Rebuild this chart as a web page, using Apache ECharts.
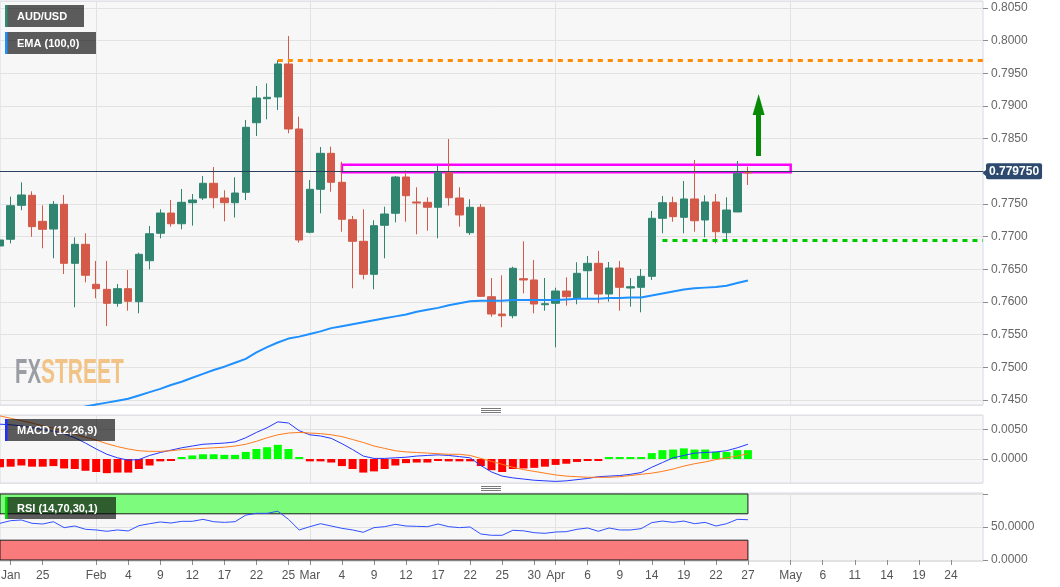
<!DOCTYPE html>
<html><head><meta charset="utf-8">
<script src="https://cdn.jsdelivr.net/npm/echarts@6/dist/echarts.min.js"></script>
<style>html,body{margin:0;padding:0;background:#fff}#c{width:1060px;height:587px}</style>
</head><body><div id="c"></div>
<script>
// ---- categories (trading days) ----
const dates = ['2021-01-19','2021-01-20','2021-01-21','2021-01-22','2021-01-25','2021-01-26','2021-01-27','2021-01-28','2021-01-29',
'2021-02-01','2021-02-02','2021-02-03','2021-02-04','2021-02-05','2021-02-08','2021-02-09','2021-02-10','2021-02-11','2021-02-12',
'2021-02-15','2021-02-16','2021-02-17','2021-02-18','2021-02-19','2021-02-22','2021-02-23','2021-02-24','2021-02-25','2021-02-26',
'2021-03-01','2021-03-02','2021-03-03','2021-03-04','2021-03-05','2021-03-08','2021-03-09','2021-03-10','2021-03-11','2021-03-12',
'2021-03-15','2021-03-16','2021-03-17','2021-03-18','2021-03-19','2021-03-22','2021-03-23','2021-03-24','2021-03-25','2021-03-26',
'2021-03-29','2021-03-30','2021-03-31','2021-04-01','2021-04-02','2021-04-05','2021-04-06','2021-04-07','2021-04-08','2021-04-09',
'2021-04-12','2021-04-13','2021-04-14','2021-04-15','2021-04-16','2021-04-19','2021-04-20','2021-04-21','2021-04-22','2021-04-23',
'2021-04-26','2021-04-27','2021-04-28','2021-04-29','2021-04-30','2021-05-03','2021-05-04','2021-05-05','2021-05-06','2021-05-07',
'2021-05-10','2021-05-11','2021-05-12','2021-05-13','2021-05-14','2021-05-17','2021-05-18','2021-05-19','2021-05-20','2021-05-21',
'2021-05-24','2021-05-25','2021-05-26','2021-05-27'];

// ---- x tick labels ----
const xTickDates = ['2021-01-20','2021-01-25','2021-02-01','2021-02-04','2021-02-09','2021-02-12','2021-02-17','2021-02-22','2021-02-25',
'2021-03-01','2021-03-04','2021-03-09','2021-03-12','2021-03-17','2021-03-22','2021-03-25','2021-03-30','2021-04-01','2021-04-06',
'2021-04-09','2021-04-14','2021-04-19','2021-04-22','2021-04-27','2021-05-03','2021-05-06','2021-05-11','2021-05-14','2021-05-19','2021-05-24'];
const xTickTexts = ['Jan','25','Feb','4','9','12','17','22','25','Mar','4','9','12','17','22','25','30','Apr','6','9','14','19','22','27','May','6','11','14','19','24'];
const monthStarts = ['2021-02-01','2021-03-01','2021-04-01','2021-05-03'];

// ---- AUD/USD daily candles [open, close, low, high] ----
const ohlc = [
[0.76857,0.76949,0.76719,0.77255],[0.76960,0.77474,0.76898,0.77612],[0.77480,0.77638,0.77404,0.77832],[0.77633,0.77153,0.76999,0.77694],
[0.77235,0.77113,0.76822,0.77480],[0.77117,0.77495,0.76669,0.77546],[0.77495,0.76592,0.76429,0.77638],[0.76592,0.76883,0.75919,0.76990],
[0.76883,0.76409,0.76302,0.77052],[0.76271,0.76204,0.76057,0.76628],[0.76194,0.75980,0.75633,0.76628],[0.75980,0.76204,0.75928,0.76276],
[0.76204,0.76011,0.75867,0.76490],[0.76005,0.76730,0.75827,0.76755],[0.76632,0.77045,0.76501,0.77163],[0.77052,0.77362,0.76975,0.77419],
[0.77362,0.77198,0.77153,0.77561],[0.77198,0.77526,0.77113,0.77730],[0.77520,0.77561,0.77168,0.77653],[0.77592,0.77817,0.77561,0.77929],
[0.77817,0.77596,0.77434,0.78066],[0.77592,0.77520,0.77235,0.77710],[0.77520,0.77668,0.77293,0.77909],[0.77679,0.78674,0.77561,0.78786],
[0.78744,0.79122,0.78541,0.79306],[0.79112,0.79133,0.78796,0.79347],[0.79138,0.79643,0.78939,0.79700],[0.79643,0.78648,0.78582,0.80071],
[0.78648,0.76949,0.76908,0.78836],[0.77067,0.77725,0.77052,0.77867],[0.77725,0.78276,0.77358,0.78372],[0.78276,0.77832,0.77688,0.78377],
[0.77832,0.77266,0.77076,0.78147],[0.77260,0.76929,0.76210,0.77316],[0.76929,0.76424,0.76347,0.77419],[0.76424,0.77168,0.76194,0.77251],
[0.77174,0.77347,0.76669,0.77459],[0.77358,0.77913,0.77220,0.77929],[0.77913,0.77627,0.77229,0.78010],[0.77531,0.77515,0.77036,0.77756],
[0.77526,0.77450,0.77091,0.77603],[0.77450,0.77979,0.76975,0.78086],[0.77979,0.77596,0.77474,0.78495],[0.77592,0.77332,0.77153,0.77756],
[0.77061,0.77450,0.77026,0.77572],[0.77450,0.76087,0.76077,0.77500],[0.76081,0.75816,0.75775,0.76367],[0.75816,0.75790,0.75613,0.76409],
[0.75790,0.76516,0.75751,0.76540],[0.76357,0.76337,0.76133,0.76929],[0.76337,0.75969,0.75827,0.76643],[0.75959,0.75974,0.75867,0.76367],
[0.75980,0.76168,0.75307,0.76219],[0.76168,0.76081,0.75943,0.76378],[0.76061,0.76439,0.75965,0.76608],[0.76479,0.76592,0.76057,0.76704],
[0.76592,0.76122,0.75980,0.76781],[0.76122,0.76520,0.76005,0.76612],[0.76520,0.76225,0.75867,0.76628],[0.76214,0.76234,0.75928,0.76367],
[0.76225,0.76393,0.75842,0.76505],[0.76393,0.77281,0.76337,0.77393],[0.77281,0.77520,0.77052,0.77622],[0.77520,0.77306,0.77229,0.77612],
[0.77296,0.77577,0.77052,0.77852],[0.77577,0.77244,0.77076,0.78173],[0.77255,0.77531,0.76990,0.77633],[0.77531,0.77076,0.76898,0.77653],
[0.77061,0.77408,0.76949,0.77603],[0.77378,0.77970,0.77378,0.78158],[0.77990,0.77975,0.77791,0.78071]];

// ---- EMA(100) ----
const ema100 = [null,null,null,null,null,null,null,0.7436,0.7440,0.7443,0.7446,0.7449,0.7452,0.7457,0.7462,0.7467,0.7473,0.7478,0.7484,
0.7490,0.7496,0.7501,0.7507,0.7513,0.7523,0.7531,0.7538,0.7544,0.7547,0.7551,0.7555,0.7560,0.7563,0.7566,0.7569,0.7572,0.7575,0.7578,
0.7581,0.7585,0.7588,0.7591,0.7595,0.7598,0.7601,0.7602,0.7602,0.7602,0.7603,0.7603,0.7603,0.7603,0.7603,0.7604,0.7605,0.7605,0.7605,
0.7606,0.7606,0.7607,0.7607,0.7610,0.7613,0.7616,0.7619,0.7621,0.7622,0.7623,0.7625,0.7629,0.7633];

// ---- MACD (12,26,9) ----
const macdLine = [0.0059,0.0058,0.0056,0.0053,0.0050,0.0047,0.0043,0.0036,0.0027,0.0017,0.0008,0.0002,-0.0002,-0.0001,0.0006,0.0011,
0.0015,0.0019,0.0022,0.0025,0.0026,0.0027,0.0029,0.0036,0.0045,0.0053,0.0063,0.0061,0.0048,0.0041,0.0039,0.0035,0.0026,0.0016,0.0005,
0.0001,0.0001,0.0002,0.0003,0.0005,0.0006,0.0007,0.0006,0.0004,0.0002,-0.0011,-0.0022,-0.0029,-0.0032,-0.0034,-0.0036,-0.0037,-0.0038,
-0.0037,-0.0035,-0.0033,-0.0030,-0.0029,-0.0028,-0.0026,-0.0023,-0.0014,-0.0006,0.0002,0.0006,0.0010,0.0011,0.0012,0.0014,0.0019,0.0025];
const signalLine = [0.0073,0.0069,0.0065,0.0061,0.0056,0.0052,0.0047,0.0042,0.0037,0.0032,0.0026,0.0021,0.0017,0.0014,0.0013,0.0013,
0.0014,0.0016,0.0017,0.0018,0.0019,0.0020,0.0022,0.0025,0.0030,0.0036,0.0041,0.0044,0.0045,0.0044,0.0043,0.0041,0.0038,0.0033,0.0028,
0.0022,0.0018,0.0014,0.0012,0.0011,0.0010,0.0009,0.0008,0.0008,0.0006,0.0001,-0.0004,-0.0009,-0.0014,-0.0018,-0.0021,-0.0024,-0.0027,
-0.0029,-0.0030,-0.0031,-0.0031,-0.0031,-0.0030,-0.0028,-0.0026,-0.0024,-0.0021,-0.0017,-0.0012,-0.0008,-0.0005,-0.0001,0.0002,0.0005,0.0009];
const macdHist = [-0.0014,-0.0013,-0.0011,-0.0013,-0.0013,-0.0012,-0.0016,-0.0017,-0.0020,-0.0022,-0.0024,-0.0023,-0.0023,-0.0017,-0.0011,
-0.0004,-0.0001,0.0003,0.0006,0.0008,0.0008,0.0007,0.0007,0.0012,0.0017,0.0020,0.0024,0.0017,0.0001,-0.0004,-0.0004,-0.0006,-0.0012,
-0.0017,-0.0023,-0.0021,-0.0017,-0.0011,-0.0007,-0.0006,-0.0006,-0.0003,-0.0004,-0.0004,-0.0004,-0.0012,-0.0019,-0.0022,-0.0017,-0.0016,
-0.0015,-0.0013,-0.0010,-0.0008,-0.0005,-0.0001,-0.0001,0.0001,0.0001,0.0001,0.0002,0.0010,0.0015,0.0016,0.0018,0.0016,0.0016,0.0012,
0.0012,0.0015,0.0015];

// ---- RSI (14) ----
const rsi = [55.6,59.6,60.6,55.6,54.5,58,49,51.5,46.5,45.5,43.5,45.5,44,52,55,57.6,56,58.6,58.6,61.6,58,57,58,68,70.7,70.7,74,61.6,45.5,
50.5,55,51.5,48,45.5,42,49,50.5,54,51.5,51,50.5,54.5,50.5,49,50,39.4,37.4,37.4,45,44.2,41.4,40.4,42.4,42.9,46.5,48.5,43.5,48.5,45.5,
45.5,47.5,56.6,59,57,59,55,57,51.5,55,61.6,61];
const rsiBands = [[70, 100], [0, 30]];

// ---- annotations ----
const lastPrice = [0.77975];
const resistance = ['2021-02-24', 0.7970];
const support = ['2021-04-15', 0.7694];
const zone = ['2021-03-04', '2021-05-03', 0.77987, 0.78100];
const arrowUp = ['2021-04-28', 0.78235, 0.79023];

const FONT = '"Liberation Sans", Arial, sans-serif';
const ix = d => dates.indexOf(d);
const lastIdx = ohlc.length - 1;

function xAx(grid, show) {
  return {
    type: 'category', gridIndex: grid, data: dates, boundaryGap: false,
    axisLine: {show: false},
    axisTick: {show: show, length: 5, interval: (i, v) => xTickDates.includes(v), lineStyle: {color: '#8c8c8c'}},
    axisLabel: {show: show, interval: (i, v) => xTickDates.includes(v),
      formatter: v => xTickTexts[xTickDates.indexOf(v)] || '', color: '#555', fontSize: 12, fontFamily: FONT, margin: 9},
    splitLine: {show: true, interval: (i, v) => monthStarts.includes(v), lineStyle: {color: '#e2e2e2', width: 1}}
  };
}
function yAx(grid, min, max, step, fmt) {
  return {
    type: 'value', gridIndex: grid, position: 'right', min: min, max: max, scale: true,
    minInterval: step, maxInterval: step, splitNumber: 12,
    axisLine: {show: false},
    axisTick: {show: true, length: 5, lineStyle: {color: '#8c8c8c'}},
    axisLabel: {color: '#666', fontSize: 12, fontFamily: FONT, margin: 8, padding: [4, 0, 0, 0],
      showMinLabel: false, showMaxLabel: false, formatter: fmt},
    splitLine: {show: true, lineStyle: {color: '#e2e2e2', width: 1}}
  };
}
function tag(x, y, w, text, strip) {
  return [
    {type: 'rect', z: 100, shape: {x: x, y: y, width: w, height: 22}, style: {fill: 'rgba(0,0,0,0.63)'}},
    {type: 'rect', z: 101, shape: {x: x, y: y, width: 2.5, height: 22}, style: {fill: strip}},
    {type: 'text', z: 101, x: x + 12, y: y + 11.5, style: {text: text, fill: '#fff', font: 'bold 11px ' + FONT, verticalAlign: 'middle'}}
  ];
}
function handle(y) {
  return [0, 2, 4].map(d => ({type: 'line', z: 50, shape: {x1: 481, y1: y + d + 0.5, x2: 501, y2: y + d + 0.5}, style: {stroke: '#7a7a7a', lineWidth: 1}}));
}

const gridBase = {left: 0, width: 983, show: true, backgroundColor: '#f7f7f7', borderColor: '#d4dae6', borderWidth: 1, containLabel: false, outerBoundsMode: 'none'};

const chart = echarts.init(document.getElementById('c'), null, {renderer: 'canvas'});
chart.setOption({
  animation: false,
  backgroundColor: '#ffffff',
  textStyle: {fontFamily: FONT},
  grid: [
    Object.assign({}, gridBase, {top: 1, height: 404}),
    Object.assign({}, gridBase, {top: 415, height: 68}),
    Object.assign({}, gridBase, {top: 493, height: 68})
  ],
  xAxis: [xAx(0, false), xAx(1, false), xAx(2, true)],
  yAxis: [
    yAx(0, 0.7442347, 0.8060714, 0.005, v => v.toFixed(4)),
    yAx(1, -0.004068, 0.007458, 0.005, v => v.toFixed(4)),
    yAx(2, -1.515, 101.5, 50, v => (v === 0 || v === 50) ? v.toFixed(4) : '')
  ],
  series: [
    {
      type: 'candlestick', name: 'AUD/USD', xAxisIndex: 0, yAxisIndex: 0, data: ohlc, barWidth: 8, z: 3,
      itemStyle: {color: '#2f8570', color0: '#d45948', borderColor: '#2f8570', borderColor0: '#d45948', borderWidth: 1},
      markArea: {
        silent: true,
        itemStyle: {color: 'rgba(255,255,255,0)', borderColor: '#ff00ff', borderWidth: 2.5},
        data: [[{coord: [ix(zone[0]), zone[2]]}, {coord: [ix(zone[1]), zone[3]]}]]
      },
      markPoint: {
        silent: true,
        data: [{coord: [dates.length - 1, lastPrice[0]], symbol: 'triangle', symbolRotate: 90, symbolSize: [9, 5],
                symbolOffset: [2, 0], itemStyle: {color: '#2d4a6e'}, label: {show: false}}]
      },
      markLine: {
        silent: true, symbol: ['none', 'none'], label: {show: false},
        data: [
          {yAxis: lastPrice[0], lineStyle: {color: '#2b3f5e', width: 1, type: 'solid'},
           label: {show: true, position: 'end', distance: 3, formatter: lastPrice[0].toFixed(6), color: '#fff', fontWeight: 'bold',
                   fontSize: 12, fontFamily: FONT, backgroundColor: '#2d4a6e', padding: [3, 3, 1, 3], borderRadius: 2}},
          [{coord: [ix(resistance[0]), resistance[1]], lineStyle: {color: '#ff8c00', width: 3, type: [5, 5]}},
           {coord: [dates.length - 1, resistance[1]]}],
          [{coord: [ix(support[0]), support[1]], lineStyle: {color: '#00c800', width: 3, type: [5, 5]}},
           {coord: [dates.length - 1, support[1]]}],
          [{coord: [ix(arrowUp[0]), arrowUp[1]], lineStyle: {color: '#088a08', width: 5, type: 'solid'}},
           {coord: [ix(arrowUp[0]), arrowUp[2]], symbol: 'triangle', symbolSize: [12, 21]}]
        ]
      }
    },
    {
      type: 'line', name: 'EMA (100,0)', xAxisIndex: 0, yAxisIndex: 0, data: ema100, showSymbol: false, z: 4,
      lineStyle: {color: '#1e90ff', width: 2}
    },
    {
      type: 'bar', xAxisIndex: 1, yAxisIndex: 1, data: macdHist, barWidth: 8, barMinHeight: 2,
      itemStyle: {color: p => p.value >= 0 ? '#00ff00' : '#ff0000'}
    },
    {type: 'line', xAxisIndex: 1, yAxisIndex: 1, data: macdLine, showSymbol: false, lineStyle: {color: '#2338ff', width: 1}, z: 4},
    {type: 'line', xAxisIndex: 1, yAxisIndex: 1, data: signalLine, showSymbol: false, lineStyle: {color: '#ff7a1a', width: 1}, z: 4},
    {
      type: 'line', xAxisIndex: 2, yAxisIndex: 2, data: rsi, showSymbol: false, z: 5, lineStyle: {color: '#3050ff', width: 1},
      markArea: {
        silent: true,
        itemStyle: {borderColor: '#1b1b1b', borderWidth: 1},
        data: [
          [{coord: [0, rsiBands[0][0]], itemStyle: {color: '#7dfb7d'}}, {coord: [lastIdx, rsiBands[0][1]]}],
          [{coord: [0, rsiBands[1][0]], itemStyle: {color: '#f97b7b'}}, {coord: [lastIdx, rsiBands[1][1]]}]
        ]
      }
    }
  ],
  graphic: [
    {type: 'text', z: 1, x: 15, y: 373, scaleX: 0.58, style: {text: 'FX', fill: '#9a9da3', font: 'bold 35px ' + FONT, verticalAlign: 'middle'}},
    {type: 'text', z: 1, x: 41, y: 373, scaleX: 0.6, style: {text: 'STREET', fill: '#f2c386', font: 'bold 35px ' + FONT, verticalAlign: 'middle'}},
    ...tag(5, 5, 79, 'AUD/USD', '#2e8b74'),
    ...tag(5, 32, 91, 'EMA (100,0)', '#1e90ff'),
    ...tag(5, 419, 110, 'MACD (12,26,9)', '#1f2fff'),
    ...tag(5, 497, 111, 'RSI (14,70,30,1)', '#00dd00'),
    ...handle(408),
    ...handle(486)
  ]
});
</script>
</body></html>
